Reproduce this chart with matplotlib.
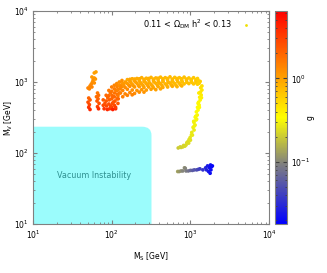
import numpy as np
import matplotlib
matplotlib.use('Agg')
from matplotlib import pyplot as plt
from matplotlib.colors import LinearSegmentedColormap, LogNorm
from matplotlib.patches import FancyBboxPatch
from matplotlib.lines import Line2D

# left cluster (M_S ~ 50-70 GeV)
left_ms = [60, 63, 56, 60, 58, 62, 57, 60, 55, 53, 56, 50, 52,
           51, 53, 50, 52, 51, 53,
           66, 68, 64, 67, 65, 69, 66, 68]
left_mv = [1340, 1384, 1175, 1138, 1066, 1100, 1000, 970, 937, 880, 851, 823, 800,
           595, 560, 520, 480, 440, 410,
           700, 650, 620, 580, 540, 500, 450, 420]
left_g = [1.0, 1.0, 1.1, 1.1, 1.2, 1.1, 1.2, 1.2, 1.3, 1.3, 1.4, 1.4, 1.4,
          2.0, 2.2, 2.5, 2.8, 3.5, 4.0,
          1.6, 1.8, 1.8, 2.0, 2.3, 2.5, 3.0, 3.8]

# lobe at M_S ~ 80-130 GeV
lobe_ms = [78, 78, 80, 85, 85, 86, 88, 92, 92, 93, 92, 94,
           100, 100, 101, 100, 102, 100, 103, 108, 108, 109, 108, 110, 108, 112,
           116, 117, 116, 118, 117, 120, 112, 125, 126, 128, 125, 135, 137, 135,
           82, 89, 96, 104, 113, 121, 97, 105]
lobe_mv = [560, 470, 420, 650, 540, 460, 410, 760, 640, 560, 490, 420,
           850, 740, 650, 580, 500, 440, 410, 900, 800, 700, 620, 540, 470, 420,
           950, 860, 760, 670, 580, 500, 440, 1000, 900, 800, 700, 1050, 950, 860,
           500, 600, 700, 620, 760, 580, 460, 520]
lobe_g = [2.2, 2.8, 3.5, 1.9, 2.3, 2.8, 4.0, 1.6, 1.9, 2.2, 2.6, 3.5,
          1.5, 1.6, 1.8, 2.0, 2.5, 3.0, 4.5, 1.4, 1.5, 1.7, 1.9, 2.2, 2.7, 4.0,
          1.3, 1.4, 1.5, 1.7, 2.0, 2.3, 3.2, 1.2, 1.3, 1.4, 1.6, 1.2, 1.2, 1.3,
          2.5, 2.0, 1.7, 1.9, 1.5, 2.0, 2.8, 2.4]

# upper band M_V ~ 1 TeV
band_ms = [158, 182, 209, 240, 275, 316, 363, 417, 479, 550, 631, 724, 832, 955, 1096, 1230,
           170, 195, 224, 257, 295, 339, 389, 447, 513, 589, 676, 776, 891, 1023, 1175,
           148, 170, 195, 224, 257, 295, 339, 389, 447, 513, 589, 676, 776, 891, 1023, 1175, 1300,
           150, 175, 200, 230, 265, 300, 345, 395, 450, 520, 600, 690, 790, 900, 1040, 1180, 1290,
           138, 158, 182, 209, 240, 275, 316, 363, 417, 479, 550, 631, 724, 832, 955, 1096, 1230,
           125, 142, 165, 190, 218, 250, 285, 330, 380, 435, 500, 570, 655, 750,
           129, 148, 170, 195, 224, 257, 295, 339, 389, 447, 513, 589, 676, 776,
           120, 138, 158, 182, 209, 240, 275, 316, 363, 417,
           129, 148, 170, 195, 224, 257,
           120, 138, 158, 182]
band_mv = [1080, 1110, 1120, 1150, 1130, 1160, 1140, 1170, 1150, 1180, 1160, 1150, 1170, 1140, 1150, 1120,
           1090, 1100, 1110, 1090, 1120, 1100, 1130, 1110, 1120, 1100, 1120, 1110, 1100, 1090, 1080,
           1000, 1030, 1040, 1050, 1020, 1060, 1040, 1070, 1050, 1060, 1040, 1070, 1050, 1060, 1040, 1030, 1000,
           980, 990, 1000, 990, 1000, 980, 1000, 990, 1010, 990, 1000, 1010, 1000, 990, 990, 980, 960,
           940, 950, 930, 960, 940, 950, 930, 960, 950, 940, 970, 950, 960, 940, 950, 940, 930,
           900, 890, 900, 880, 900, 890, 900, 880, 900, 890, 900, 910, 900, 910,
           860, 840, 870, 850, 860, 840, 850, 830, 860, 840, 850, 870, 860, 880,
           780, 760, 790, 770, 760, 780, 770, 790, 780, 800,
           700, 680, 710, 690, 720, 720,
           640, 620, 650, 660]
band_g = [0.9, 0.9, 0.85, 0.85, 0.8, 0.8, 0.8, 0.75, 0.75, 0.75, 0.7, 0.7, 0.7, 0.65, 0.65, 0.6,
          0.95, 0.9, 0.9, 0.85, 0.85, 0.8, 0.8, 0.75, 0.75, 0.75, 0.7, 0.7, 0.7, 0.65, 0.6,
          1.0, 1.0, 0.95, 0.9, 0.9, 0.85, 0.85, 0.8, 0.8, 0.75, 0.75, 0.75, 0.7, 0.7, 0.65, 0.65, 0.6,
          1.05, 1.0, 1.0, 0.95, 0.9, 0.9, 0.85, 0.85, 0.8, 0.8, 0.75, 0.75, 0.7, 0.7, 0.65, 0.65, 0.6,
          1.1, 1.05, 1.0, 1.0, 0.95, 0.9, 0.9, 0.85, 0.85, 0.8, 0.8, 0.75, 0.75, 0.7, 0.7, 0.65, 0.6,
          1.2, 1.15, 1.1, 1.05, 1.0, 0.95, 0.95, 0.9, 0.85, 0.85, 0.8, 0.8, 0.75, 0.75,
          1.3, 1.25, 1.2, 1.1, 1.05, 1.0, 1.0, 0.95, 0.9, 0.9, 0.85, 0.85, 0.8, 0.8,
          1.4, 1.35, 1.3, 1.2, 1.15, 1.1, 1.05, 1.0, 1.0, 0.95,
          1.5, 1.4, 1.35, 1.3, 1.2, 1.15,
          1.6, 1.5, 1.45, 1.4]

# descending branch at M_S ~ 1 TeV
curve_ms = [1250, 1330, 1400, 1350, 1400, 1340, 1370, 1310, 1380, 1330, 1270, 1290, 1230, 1300,
            1250, 1190, 1220, 1150, 1200, 1180, 1110, 1146, 1080, 1120, 1113, 1040,
            1060, 990, 1000, 930, 950, 880, 850, 800, 760, 700,
            1280, 1250, 1170, 1100, 1030, 960, 900, 820, 740]
curve_mv = [1060, 1020, 880, 830, 771, 720, 656, 610, 600, 558, 520, 474, 440, 440,
            403, 380, 343, 320, 300, 292, 270, 248, 230, 240, 211, 195,
            179, 165, 152, 145, 138, 130, 125, 122, 120, 118,
            700, 500, 330, 280, 180, 155, 140, 128, 122]
curve_g = [0.6, 0.6, 0.5, 0.48, 0.45, 0.44, 0.42, 0.4, 0.4, 0.38, 0.37, 0.36, 0.35, 0.35,
           0.34, 0.33, 0.32, 0.32, 0.31, 0.31, 0.3, 0.3, 0.29, 0.3, 0.28, 0.27,
           0.27, 0.26, 0.25, 0.25, 0.24, 0.23, 0.23, 0.22, 0.21, 0.2,
           0.43, 0.37, 0.32, 0.3, 0.27, 0.25, 0.24, 0.22, 0.21]

# low cluster M_V ~ 55 GeV
low_ms = [690, 720, 760, 800, 840, 860, 880, 940, 1000, 1060, 1120, 1200, 1260, 1320,
          1440, 1560, 1600, 1650, 1700, 1750, 1800, 1820, 1850, 1780, 1900]
low_mv = [55, 55, 56, 56, 62, 61, 56, 56, 57, 57, 58, 58, 59, 60,
          58, 62, 58, 66, 55, 62, 68, 58, 64, 52, 66]
low_g = [0.13, 0.12, 0.11, 0.10, 0.11, 0.10, 0.09, 0.08, 0.07, 0.06, 0.055, 0.05, 0.045, 0.04,
         0.035, 0.03, 0.028, 0.025, 0.024, 0.022, 0.022, 0.021, 0.02, 0.022, 0.02]

vac_ms_max = 320
vac_mv_max = 235

ms = np.array(left_ms + lobe_ms + band_ms + curve_ms + low_ms, dtype=float)
mv = np.array(left_mv + lobe_mv + band_mv + curve_mv + low_mv, dtype=float)
g = np.array(left_g + lobe_g + band_g + curve_g + low_g, dtype=float)

plt.rcParams['mathtext.default'] = 'regular'
plt.rcParams['font.size'] = 5.5

cmap = LinearSegmentedColormap.from_list(
    'bgyr', [(0.0, (0, 0, 1)), (0.28, (0.5, 0.5, 0.5)), (0.5, (1, 1, 0)), (1.0, (1, 0, 0))])
norm = LogNorm(vmin=0.018, vmax=6.4)

fig = plt.figure(figsize=(3.27, 2.73), dpi=100)
ax = fig.add_axes([0.101, 0.179, 0.722, 0.781])
ax.set_xscale('log')
ax.set_yscale('log')
ax.set_xlim(10, 1e4)
ax.set_ylim(10, 1e4)

# vacuum instability region, rounded upper right corner
xr = (np.log10(vac_ms_max) - 1) / 3
yr = (np.log10(vac_mv_max) - 1) / 3
box = FancyBboxPatch((-0.2, -0.2), xr + 0.2, yr + 0.2,
                     boxstyle='round,pad=0,rounding_size=0.04',
                     transform=ax.transAxes, facecolor='#9bfcfc', edgecolor='none', zorder=1)
ax.add_patch(box)
ax.text(60, 49, 'Vacuum Instability', color='#2f9090', ha='center', va='center', fontsize=5.8)

sc = ax.scatter(ms, mv, c=g, cmap=cmap, norm=norm, s=7, linewidths=0, zorder=3)

ax.set_xlabel('M$_S$ [GeV]', labelpad=7)
ax.set_ylabel('M$_V$ [GeV]')
ax.yaxis.set_label_coords(-0.075, 0.5)
for sp in ax.spines.values():
    sp.set_color('#808080')
ax.tick_params(which='both', direction='in', top=True, right=True, color='#808080', pad=3)
ax.tick_params(which='major', length=3)
ax.tick_params(which='minor', length=1.5)

h = Line2D([], [], linestyle='none', marker='o', markersize=2, color='#f0e000', markeredgewidth=0)
ax.legend([h], [r'0.11 < $\Omega_{DM}$ h$^2$ < 0.13'], loc='upper right', frameon=False,
          markerfirst=False, bbox_to_anchor=(0.965, 1.005), handlelength=1.8, fontsize=5.9)

cax = fig.add_axes([0.841, 0.179, 0.037, 0.781])
cb = fig.colorbar(sc, cax=cax)
cb.outline.set_edgecolor('#808080')
cax.tick_params(which='both', direction='in', left=True, right=True, color='#404040', pad=3)
cax.tick_params(which='major', length=3)
cax.tick_params(which='minor', length=1.5)
cb.set_label('g')
cax.yaxis.set_label_coords(2.55, 0.5)

fig.savefig('out.png', dpi=100)
